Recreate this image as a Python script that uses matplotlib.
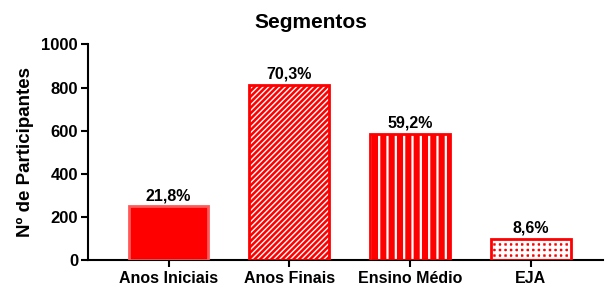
import numpy as np
import matplotlib
matplotlib.use('Agg')
import matplotlib.pyplot as plt

# data
segmentos = ['Anos Iniciais', 'Anos Finais', 'Ensino Médio', 'EJA']
participantes = [250, 813, 586, 99]
percentuais = ['21,8%', '70,3%', '59,2%', '8,6%']
hachuras = ['', '//////', '||', '+++']
larg_hachura = [1.0, 1.0, 1.6, 2.2]

plt.rcParams['font.family'] = ['Liberation Sans', 'DejaVu Sans']
plt.rcParams['font.weight'] = 'bold'

fig, ax = plt.subplots(figsize=(6.05, 2.86), dpi=100)
fig.subplots_adjust(left=0.145, right=0.997, top=0.845, bottom=0.09)

x = np.arange(len(segmentos))
largura = 0.66

for i in range(len(segmentos)):
    plt.rcParams['hatch.linewidth'] = larg_hachura[i]
    # red face with white hatch, then the red outline on top
    ax.bar(x[i], participantes[i], largura, color='#ff0000', edgecolor='white',
           hatch=hachuras[i], linewidth=0, zorder=2)
    if i == 0:
        ax.bar(x[i], participantes[i], largura, fill=False,
               edgecolor='#ff5a5a', linewidth=2, zorder=3)
    else:
        ax.bar(x[i], participantes[i], largura, fill=False,
               edgecolor='#ff0000', linewidth=2, zorder=3)
    ax.text(x[i], participantes[i] + 15, percentuais[i], ha='center', va='bottom',
            fontsize=11.5, fontweight='bold')

ax.set_xlim(-0.67, 3.6)
ax.set_ylim(0, 1000)
ax.set_yticks(np.arange(0, 1001, 200))
ax.set_xticks(x)
ax.set_xticklabels(segmentos, fontsize=11.5, fontweight='bold')
ax.tick_params(axis='y', labelsize=12, width=1.5, length=5, pad=2)
ax.tick_params(axis='x', width=1.5, length=5, pad=3)
for lab in ax.get_yticklabels():
    lab.set_fontweight('bold')
ax.spines['top'].set_visible(False)
ax.spines['right'].set_visible(False)
ax.spines['left'].set_linewidth(1.5)
ax.spines['bottom'].set_linewidth(1.5)
ax.set_ylabel('Nº de Participantes', fontsize=13.5, fontweight='bold', labelpad=5)
fig.suptitle('Segmentos', x=0.513, y=0.955, fontsize=15, fontweight='bold')

fig.savefig('out.png', dpi=100)
